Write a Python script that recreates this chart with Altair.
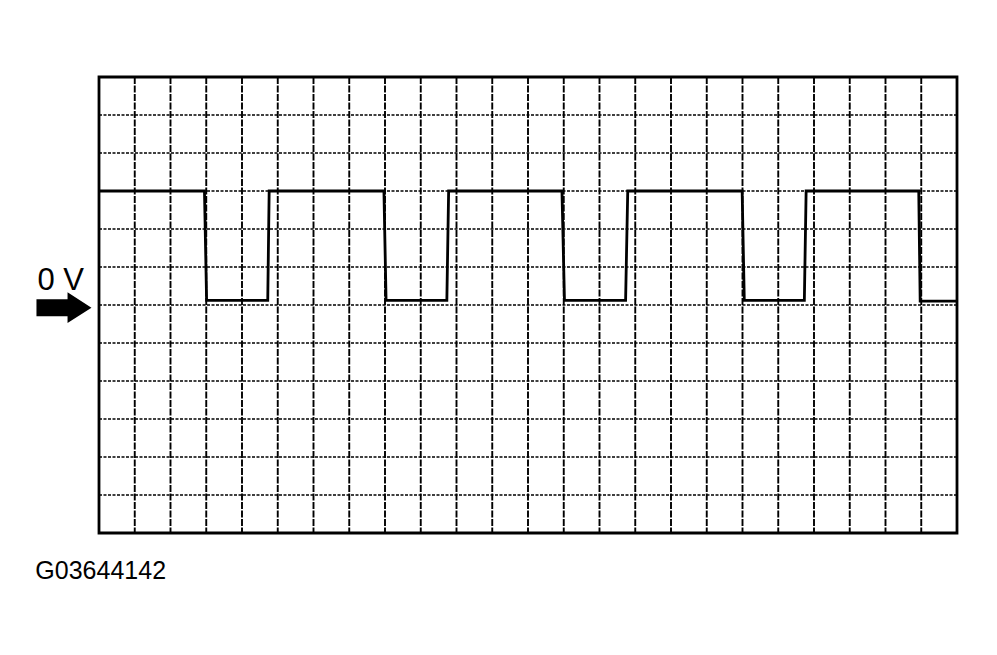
import altair as alt
import pandas as pd

# Waveform (x in horizontal divisions, y in vertical divisions, 0 V = 0)
wave_x = [0, 2.95, 3.01, 4.72, 4.76, 7.97, 8.03, 9.73, 9.78, 12.95, 13.02,
          14.73, 14.79, 17.99, 18.05, 19.73, 19.78, 22.93, 22.97, 24]
wave_y = [3, 3, 0.12, 0.12, 3, 3, 0.12, 0.12, 3, 3, 0.12,
          0.12, 3, 3, 0.12, 0.12, 3, 3, 0.1, 0.1]

# Grid divisions
grid_x = list(range(1, 24))
grid_y = list(range(-5, 6))

# Annotations
label_text = ["0 V"]
label_x = [-1.72]
label_y = [0.39]
arrow_x = [-0.98]
arrow_y = [-0.07]
code_text = ["G03644142"]
code_x = [-1.78]
code_y = [-7.2]

wave = pd.DataFrame({"x": wave_x, "y": wave_y, "i": list(range(len(wave_x)))})

xs = alt.Scale(domain=[0, 24], nice=False, zero=False)
ys = alt.Scale(domain=[-6, 6], nice=False, zero=False)
noaxis = None

vrules = alt.Chart(pd.DataFrame({"x": grid_x})).mark_rule(
    color="black", strokeWidth=1.9, strokeDash=[7, 1.5]
).encode(x=alt.X("x:Q", scale=xs, axis=noaxis))

hrules = alt.Chart(pd.DataFrame({"y": grid_y})).mark_rule(
    color="black", strokeWidth=1.6, strokeDash=[3, 1.5]
).encode(y=alt.Y("y:Q", scale=ys, axis=noaxis))

line = alt.Chart(wave).mark_line(color="black", strokeWidth=2.8,
                                 interpolate="linear").encode(
    x=alt.X("x:Q", scale=xs, axis=noaxis),
    y=alt.Y("y:Q", scale=ys, axis=noaxis),
    order="i:Q",
)

lab = alt.Chart(pd.DataFrame({"t": label_text, "x": label_x, "y": label_y})).mark_text(
    font="Liberation Sans", fontSize=31, align="left", baseline="alphabetic",
    color="black", clip=False
).encode(x=alt.X("x:Q", scale=xs, axis=noaxis), y=alt.Y("y:Q", scale=ys, axis=noaxis), text="t:N")

arrow_path = "M-1,-0.31 L0.13,-0.31 L0.13,-0.56 L1,0 L0.13,0.56 L0.13,0.31 L-1,0.31 Z"
arrow = alt.Chart(pd.DataFrame({"x": arrow_x, "y": arrow_y})).mark_point(
    shape=arrow_path, size=3025, filled=True, color="black", opacity=1,
    strokeWidth=0, clip=False
).encode(x=alt.X("x:Q", scale=xs, axis=noaxis), y=alt.Y("y:Q", scale=ys, axis=noaxis))

code = alt.Chart(pd.DataFrame({"t": code_text, "x": code_x, "y": code_y})).mark_text(
    font="Liberation Sans", fontSize=25, align="left", baseline="alphabetic",
    color="black", clip=False
).encode(x=alt.X("x:Q", scale=xs, axis=noaxis), y=alt.Y("y:Q", scale=ys, axis=noaxis), text="t:N")

chart = alt.layer(vrules, hrules, line, lab, arrow, code).properties(
    width=858, height=456,
    autosize=alt.AutoSizeParams(type="none"),
    padding={"left": 91, "top": 69, "right": 32, "bottom": 100},
    background="white",
).configure_view(stroke="black", strokeWidth=2.8)

chart.save("out.html", embed_options={"renderer": "svg", "actions": False})
